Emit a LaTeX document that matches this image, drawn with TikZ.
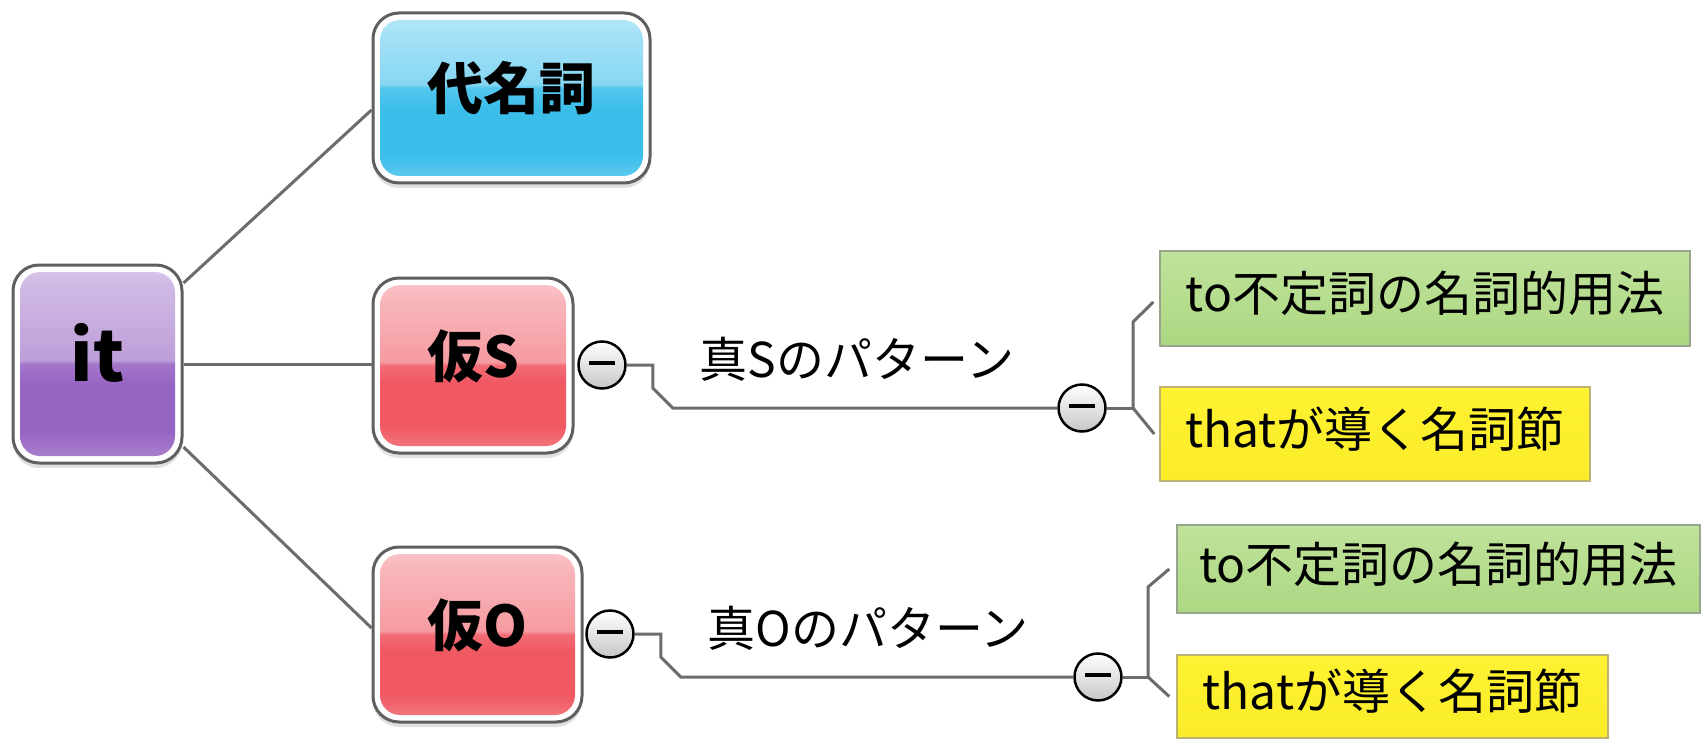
\documentclass[tikz,border=0pt]{standalone}
\usepackage{fontspec}
\newfontfamily\jp{Noto Sans CJK JP}
\usetikzlibrary{calc,shadows}

\definecolor{lineg}{RGB}{108,108,108}
\definecolor{bord}{RGB}{95,95,95}
\definecolor{cP}{RGB}{150,100,195}
\definecolor{cC}{RGB}{60,190,235}
\definecolor{cR}{RGB}{240,88,98}
\definecolor{gT}{RGB}{192,226,155}
\definecolor{gM}{RGB}{208,236,180}
\definecolor{gB}{RGB}{172,216,130}
\definecolor{gBord}{RGB}{150,165,140}
\definecolor{yT}{RGB}{255,242,50}
\definecolor{yM}{RGB}{255,252,165}
\definecolor{yB}{RGB}{250,236,40}
\definecolor{yBord}{RGB}{190,178,115}

\pgfdeclareverticalshading{glossP}{100bp}{color(0bp)=(cP!78!white); color(25bp)=(cP!78!white); color(33bp)=(cP); color(45bp)=(cP); color(50bp)=(cP!88!white); color(51bp)=(cP!62!white); color(70bp)=(cP!45!white); color(75bp)=(cP!35!white); color(100bp)=(cP!35!white)}
\pgfdeclareverticalshading{glossC}{100bp}{color(0bp)=(cC!78!white); color(25bp)=(cC!78!white); color(33bp)=(cC); color(47bp)=(cC); color(53bp)=(cC!88!white); color(54bp)=(cC!62!white); color(70bp)=(cC!45!white); color(75bp)=(cC!35!white); color(100bp)=(cC!35!white)}
\pgfdeclareverticalshading{glossR}{100bp}{color(0bp)=(cR!78!white); color(25bp)=(cR!78!white); color(33bp)=(cR); color(45bp)=(cR); color(50bp)=(cR!88!white); color(51bp)=(cR!60!white); color(70bp)=(cR!42!white); color(75bp)=(cR!32!white); color(100bp)=(cR!32!white)}

\tikzset{
  mainbox/.style={draw=bord, line width=3pt, fill=white, rounded corners=26pt, inner sep=0pt,
    font=\jp\bfseries\fontsize{56}{60}\selectfont, text height=44pt, text depth=20pt,
    drop shadow={shadow xshift=0pt, shadow yshift=-5pt, opacity=0.12, fill=black},
    path picture={\shade[shading=#1, rounded corners=20pt]
      ([shift={(7pt,7pt)}]path picture bounding box.south west) rectangle
      ([shift={(-7pt,-7pt)}]path picture bounding box.north east);}},
  childG/.style={draw=gBord, line width=1.5pt, top color=gT, middle color=gM, bottom color=gB,
    inner sep=0pt, font=\jp\fontsize{48}{52}\selectfont, text height=40pt, text depth=14pt},
  childY/.style={draw=yBord, line width=1.5pt, top color=yT, middle color=yM, bottom color=yB,
    inner sep=0pt, font=\jp\fontsize{48}{52}\selectfont, text height=40pt, text depth=14pt},
  lbl/.style={inner sep=0pt, font=\jp\fontsize{48}{52}\selectfont},
  collapse/.style={circle, draw=black, line width=2.5pt, minimum size=47pt, inner sep=0pt,
    top color=white, bottom color=black!22,
    path picture={\draw[line width=3.5pt] ([shift={(-13pt,2pt)}]path picture bounding box.center) -- ([shift={(13pt,2pt)}]path picture bounding box.center);}},
  conn/.style={draw=lineg, line width=3pt},
}

\begin{document}
\begin{tikzpicture}[x=1pt, y=-1pt]
\useasboundingbox (0,0) rectangle (1704,746);
\fill[white] (0,0) rectangle (1704,746);

% main nodes
\node[mainbox=glossP, minimum width=169pt, minimum height=198pt,
      font=\jp\bfseries\fontsize{70}{74}\selectfont, text height=50pt, text depth=16pt] (it) at (97.5,364) {it};
\node[mainbox=glossC, minimum width=277pt, minimum height=170pt] (dai) at (511.5,98) {代名詞};
\node[mainbox=glossR, minimum width=200pt, minimum height=175pt] (kS) at (473,365.5) {仮S};
\node[mainbox=glossR, minimum width=209pt, minimum height=175pt] (kO) at (477.5,634.5) {仮O};

% children
\node[childG, minimum width=530pt, minimum height=95pt] (g1) at (1425,298.5) {to不定詞の名詞的用法\hspace{10pt}};
\node[childY, minimum width=430pt, minimum height=94pt] (y1) at (1375,434) {thatが導く名詞節\hspace{12pt}};
\node[childG, minimum width=523pt, minimum height=88pt] (g2) at (1438.5,569) {to不定詞の名詞的用法\hspace{10pt}};
\node[childY, minimum width=431pt, minimum height=83pt] (y2) at (1392.5,696.5) {thatが導く名詞節\hspace{12pt}};

% labels
\node[lbl] (lS) at (857,359) {真Sのパターン};
\node[lbl] (lO) at (868,628) {真Oのパターン};

% collapse circles
\node[collapse] (cs1) at (602,365) {};
\node[collapse] (cs2) at (1082,408) {};
\node[collapse] (co1) at (610,634) {};
\node[collapse] (co2) at (1098,677) {};

\coordinate (jS) at (1133,408);
\coordinate (jO) at (1148,677);

% connectors from it
\draw[conn] (it.east |- 0,283) -- (dai.west |- 0,110);
\draw[conn] (it.east) -- (kS.west |- it.east);
\draw[conn] (it.east |- 0,447) -- (kO.west |- 0,628);

% S branch
\draw[conn] (cs1.east) -- ++(26,0) -- ++(0,23) -- ++(20,20) -- (cs2.west);
\draw[conn] (cs2.east) -- (jS);
\draw[conn] (jS) -- ++(0,-86) -- ([xshift=-6pt]g1.west |- 0,302);
\draw[conn] (jS) -- ([xshift=-5pt]y1.west);

% O branch
\draw[conn] (co1.east) -- ++(26,0) -- ++(0,23) -- ++(20,20) -- (co2.west);
\draw[conn] (co2.east) -- (jO);
\draw[conn] (jO) -- ++(0,-90) -- ([xshift=-7pt]g2.west);
\draw[conn] (jO) -- ([xshift=-7pt]y2.west);
\end{tikzpicture}
\end{document}
